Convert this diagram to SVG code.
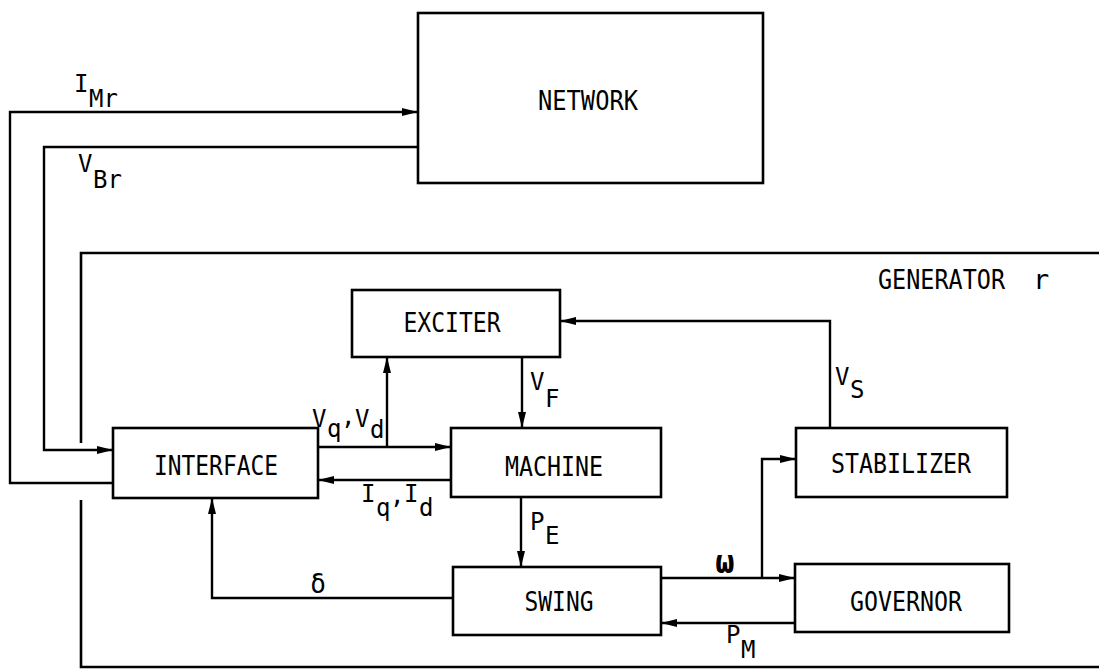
<svg xmlns="http://www.w3.org/2000/svg" width="1099" height="670" viewBox="0 0 1099 670">
<defs>
<marker id="arr" viewBox="0 0 16 8" refX="16" refY="4" markerWidth="16" markerHeight="8" markerUnits="userSpaceOnUse" orient="auto">
<path d="M0,0 L16,4 L0,8 Z" fill="#000"/>
</marker>
<style>
.box{fill:#fff;stroke:#000;stroke-width:2.6}
.ln{fill:none;stroke:#000;stroke-width:2.4}
.frame{fill:none;stroke:#000;stroke-width:2.6}
.t{font-family:"DejaVu Sans Mono","Liberation Mono",monospace;font-size:27px;fill:#000}
.c{text-anchor:middle}
.l{font-family:"DejaVu Sans Mono","Liberation Mono",monospace;font-size:24px;fill:#000}
</style>
</defs>
<rect width="1099" height="670" fill="#fff"/>

<g id="generator-frame">
<path class="frame" d="M81,443 V253 H1099"/>
<path class="frame" d="M81,500 V667 H1099"/>
<text class="t" x="878" y="289" textLength="127" lengthAdjust="spacingAndGlyphs">GENERATOR</text>
<text class="t" x="1033" y="289">r</text>
</g>

<g id="connectors">
<path class="ln" d="M113,483 H10 V112 H418" marker-end="url(#arr)"/>
<path class="ln" d="M418,147 H44 V450 H113" marker-end="url(#arr)"/>
<path class="ln" d="M318,447 H451" marker-end="url(#arr)"/>
<path class="ln" d="M387,447 V357" marker-end="url(#arr)"/>
<path class="ln" d="M522,357 V428" marker-end="url(#arr)"/>
<path class="ln" d="M451,480 H318" marker-end="url(#arr)"/>
<path class="ln" d="M521,497 V567" marker-end="url(#arr)"/>
<path class="ln" d="M453,598 H212 V498" marker-end="url(#arr)"/>
<path class="ln" d="M661,578 H795" marker-end="url(#arr)"/>
<path class="ln" d="M762,578 V459 H796" marker-end="url(#arr)"/>
<path class="ln" d="M795,623 H661" marker-end="url(#arr)"/>
<path class="ln" d="M830,428 V321 H560" marker-end="url(#arr)"/>

<text class="l" x="74" y="92">I</text><text class="l" x="89" y="107">Mr</text>
<text class="l" x="78" y="172">V</text><text class="l" x="93" y="188">Br</text>
<text class="l" x="312" y="427">V</text><text class="l" x="327" y="437">q</text>
<text class="l" x="341" y="425">,</text>
<text class="l" x="355" y="427">V</text><text class="l" x="370" y="438">d</text>
<text class="l" x="361" y="502">I</text><text class="l" x="376" y="516">q</text>
<text class="l" x="390" y="504">,</text>
<text class="l" x="404" y="502">I</text><text class="l" x="419" y="516">d</text>
<text class="l" x="530" y="390">V</text><text class="l" x="545" y="407">F</text>
<text class="l" x="530" y="530">P</text><text class="l" x="545" y="544">E</text>
<text class="l" x="835" y="385">V</text><text class="l" x="850" y="398">S</text>
<text class="l c" x="725" y="573" style="font-size:32px;font-weight:bold">ω</text>
<text class="l c" x="318" y="593" style="font-size:26px">δ</text>
<text class="l" x="726" y="643">P</text><text class="l" x="741" y="658">M</text>
</g>

<g id="network">
<rect class="box" x="418" y="13" width="345" height="170"/>
<text class="t c" x="588" y="110" textLength="100" lengthAdjust="spacingAndGlyphs">NETWORK</text>
</g>
<g id="exciter">
<rect class="box" x="352" y="290" width="208" height="67"/>
<text class="t c" x="452" y="332" textLength="97" lengthAdjust="spacingAndGlyphs">EXCITER</text>
</g>
<g id="interface">
<rect class="box" x="113" y="428" width="205" height="70"/>
<text class="t c" x="216" y="475" textLength="124" lengthAdjust="spacingAndGlyphs">INTERFACE</text>
</g>
<g id="machine">
<rect class="box" x="451" y="428" width="210" height="69"/>
<text class="t c" x="554" y="476" textLength="98" lengthAdjust="spacingAndGlyphs">MACHINE</text>
</g>
<g id="swing">
<rect class="box" x="453" y="567" width="208" height="68"/>
<text class="t c" x="559" y="611" textLength="69" lengthAdjust="spacingAndGlyphs">SWING</text>
</g>
<g id="stabilizer">
<rect class="box" x="796" y="428" width="211" height="69"/>
<text class="t c" x="901" y="473" textLength="140" lengthAdjust="spacingAndGlyphs">STABILIZER</text>
</g>
<g id="governor">
<rect class="box" x="795" y="564" width="214" height="68"/>
<text class="t c" x="906" y="611" textLength="112" lengthAdjust="spacingAndGlyphs">GOVERNOR</text>
</g>
</svg>
